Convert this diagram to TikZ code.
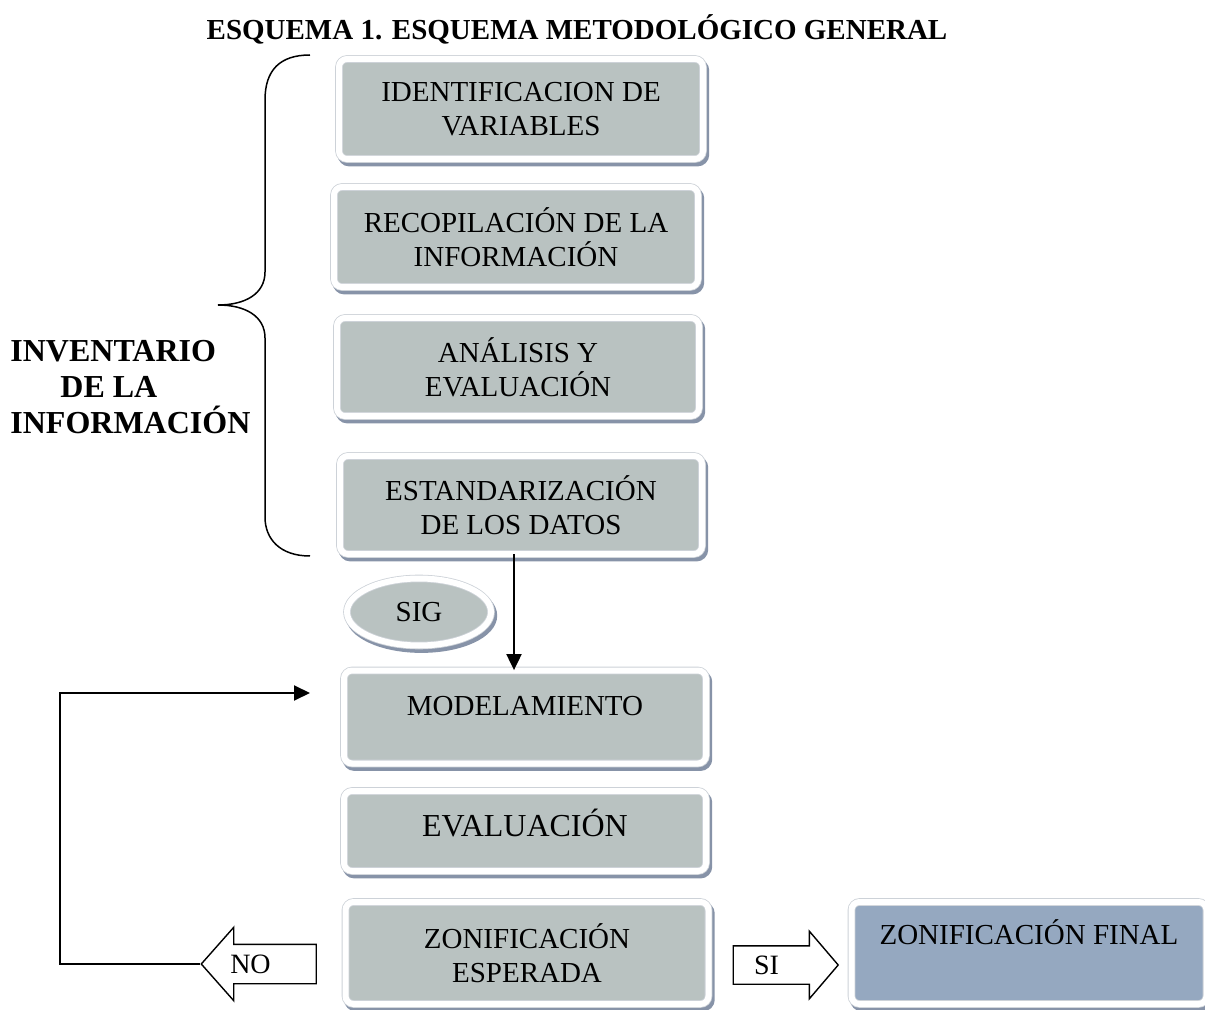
\documentclass[tikz,border=0pt]{standalone}
\usepackage{fontspec}
\setmainfont{Liberation Serif}
\usepackage{xcolor}
\usetikzlibrary{shapes.geometric,shapes.arrows,arrows.meta}
\definecolor{grisCaja}{RGB}{185,194,193}
\definecolor{azulCaja}{RGB}{149,168,192}
\definecolor{sombra}{RGB}{135,147,168}
\definecolor{borde}{RGB}{205,210,216}
\tikzset{
  marco/.style={fill=grisCaja, draw=borde, line width=0.4pt, double=white, double distance=3pt,
    preaction={draw=sombra, fill=sombra, line width=3.8pt, transform canvas={shift={(1.2pt,-1.8pt)}}}},
  caja/.style={marco, rectangle, rounded corners=4pt, align=center, inner sep=2pt,
    font=\fontsize{14.5}{17}\selectfont},
  bloque/.style={single arrow, draw, fill=white, line width=0.7pt, inner xsep=2pt,
    text height=9.5pt, text depth=0pt, font=\fontsize{14}{16}\selectfont}
}

\begin{document}
\begin{tikzpicture}[x=0.5pt, y=-0.5pt]
      \useasboundingbox (0,0) rectangle (1205,1010);
      \node [font=\bfseries\fontsize{14.5}{17}\selectfont] (titulo) at (577,29) {ESQUEMA 1. ESQUEMA METODOLÓGICO GENERAL};
      \node [font=\bfseries\fontsize{16}{18}\selectfont, align=left, anchor=north west, inner sep=0pt] (inventario) at (10,340) {INVENTARIO\\\hspace*{25pt}DE LA\\INFORMACIÓN};
      \draw [line width=0.75pt] (310,55) .. controls (280,55) and (265,70) .. (265,100) -- (265,272)
        .. controls (265,294) and (245,305) .. (218,305) .. controls (245,305) and (265,316) .. (265,338)
        -- (265,517) .. controls (265,539) and (280,556) .. (310,556);
      \node [caja, minimum width=182pt, minimum height=50pt] (ident) at (521,109) {IDENTIFICACION DE\\VARIABLES};
      \node [caja, minimum width=182pt, minimum height=50pt] (recop) at (516,237) {RECOPILACIÓN DE LA\\INFORMACIÓN};
      \node [caja, minimum width=181pt, minimum height=49pt] (analisis) at (518,367) {ANÁLISIS Y\\EVALUACIÓN};
      \node [caja, minimum width=181pt, minimum height=49pt] (estand) at (521,505) {ESTANDARIZACIÓN\\DE LOS DATOS};
      \node [marco, ellipse, inner sep=0pt, minimum width=72pt, minimum height=33.5pt, font=\fontsize{14.5}{17}\selectfont] (sig) at (419,612) {SIG};
      \node [caja, minimum width=181pt, minimum height=46.5pt] (model) at (525,717) {MODELAMIENTO\\[-11pt]\strut};
      \node [caja, minimum width=181pt, minimum height=40pt, text depth=8pt, font=\fontsize{16}{18}\selectfont] (evaluacion) at (525,831) {EVALUACIÓN};
      \node [caja, minimum width=181.5pt, minimum height=51pt] (zonesp) at (527,953) {ZONIFICACIÓN\\ESPERADA};
      \node [caja, fill=azulCaja, minimum width=177.5pt, minimum height=51pt] (zonfin) at (1029,953) {ZONIFICACIÓN FINAL\\[-1pt]\strut};
      \node [bloque, shape border rotate=180, inner ysep=4.75pt, single arrow head extend=8.5pt, single arrow tip angle=97, minimum height=57.5pt] (no) at (267.5,964) {NO\hspace*{17pt}};
      \node [bloque, inner ysep=4.5pt, single arrow head extend=7.25pt, single arrow tip angle=99, minimum height=52.5pt] (si) at (777.5,965) {SI\hspace*{11pt}};
      \coordinate (esquina) at (60,693);
      \coordinate (retorno) at (310,693);
      \draw [line width=1pt, -{Triangle[length=8pt, width=7.5pt]}] ([xshift=-3.5pt]estand.south) -- ([xshift=-5.5pt]model.north);
      \draw [line width=1pt, -{Triangle[length=8pt, width=7.5pt]}] (no.tip) -| (esquina) -- (retorno);
    \end{tikzpicture}
\end{document}
